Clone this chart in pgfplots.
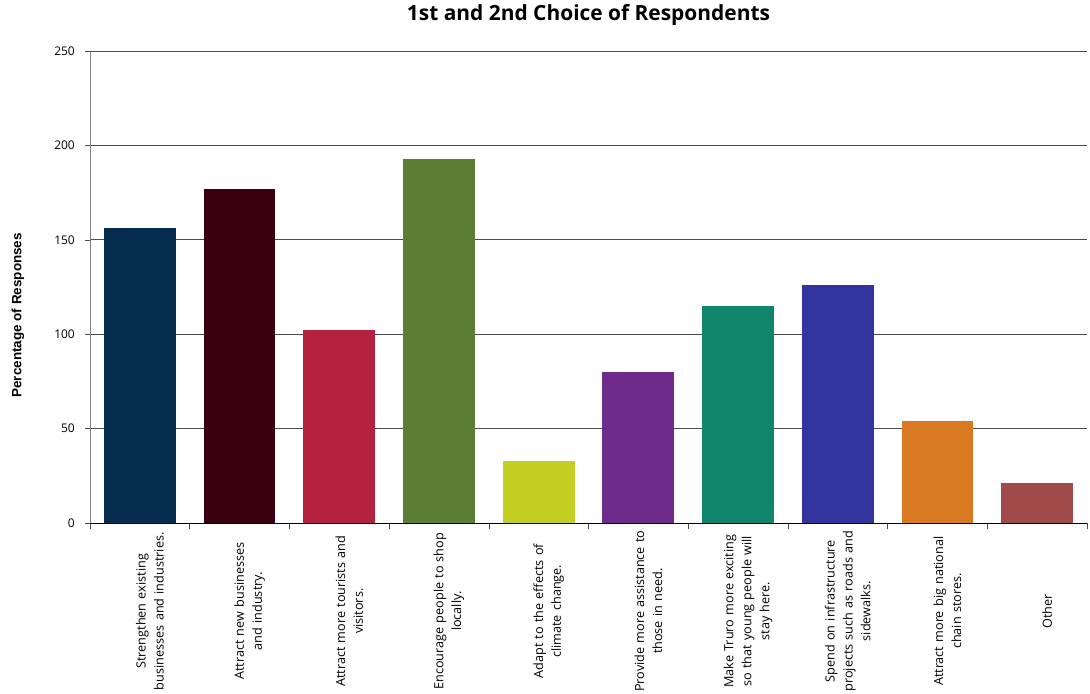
\documentclass[border=0pt]{standalone}
\usepackage{fontspec}
\setmainfont{Open Sans}
\newfontfamily\lib{Liberation Sans}
\usepackage{pgfplots}
\pgfplotsset{compat=1.18}
\definecolor{c1}{HTML}{062C4E}
\definecolor{c2}{HTML}{3A000E}
\definecolor{c3}{HTML}{B52240}
\definecolor{c4}{HTML}{5C7D34}
\definecolor{c5}{HTML}{C3CF22}
\definecolor{c6}{HTML}{6E2B8C}
\definecolor{c7}{HTML}{10856B}
\definecolor{c8}{HTML}{33349E}
\definecolor{c9}{HTML}{D97A22}
\definecolor{c10}{HTML}{A04B4A}
\begin{document}
\begin{tikzpicture}
\begin{axis}[
  scale only axis,
  width=997bp, height=472bp,
  xmin=0.5, xmax=10.5,
  ymin=0, ymax=250,
  ytick={0,50,...,250},
  axis x line*=bottom,
  axis y line*=left,
  x axis line style={black, line width=0.8bp},
  y axis line style={gray, line width=0.8bp},
  ymajorgrids,
  grid style={color=black!70, line width=0.8bp},
  tick align=outside,
  major tick length=5bp,
  minor tick length=6bp,
  tick style={black!70, line width=0.6bp},
  xtick={1,...,10},
  major x tick style={draw=none},
  minor xtick={0.5,1.5,...,10.5},
  xticklabels={
    {Strengthen existing\\businesses and industries.},
    {Attract new businesses\\and industry.},
    {Attract more tourists and\\visitors.},
    {Encourage people to shop\\locally.},
    {Adapt to the effects of\\climate change.},
    {Provide more assistance to\\those in need.},
    {Make Truro more exciting\\so that young people will\\stay here.},
    {Spend on infrastructure\\projects such as roads and\\sidewalks.},
    {Attract more big national\\chain stores.},
    {Other}},
  xticklabel style={rotate=90, anchor=east, text width=166bp, align=center,
    font=\fontsize{12.7}{18}\selectfont, inner sep=0pt, yshift=-10bp},
  yticklabel style={font=\fontsize{12}{14}\selectfont, anchor=east, inner sep=0pt, xshift=-10bp},
  /pgf/number format/assume math mode=true,
  title={\bfseries 1st and 2nd Choice of Respondents},
  title style={at={(0.5,1)}, anchor=base, yshift=25bp, font=\fontsize{21}{24}\selectfont},
  ylabel={\lib\bfseries Percentage of Responses},
  every axis y label/.style={at={(axis description cs:-0.0722,0.44)}, rotate=90, anchor=center, font=\fontsize{13.5}{15}\selectfont},
]
\addplot[ybar, bar width=0.72, bar shift=0pt, fill=c1, draw=none] coordinates {(1,156)};
\addplot[ybar, bar width=0.72, bar shift=0pt, fill=c2, draw=none] coordinates {(2,177)};
\addplot[ybar, bar width=0.72, bar shift=0pt, fill=c3, draw=none] coordinates {(3,102)};
\addplot[ybar, bar width=0.72, bar shift=0pt, fill=c4, draw=none] coordinates {(4,193)};
\addplot[ybar, bar width=0.72, bar shift=0pt, fill=c5, draw=none] coordinates {(5,33)};
\addplot[ybar, bar width=0.72, bar shift=0pt, fill=c6, draw=none] coordinates {(6,80)};
\addplot[ybar, bar width=0.72, bar shift=0pt, fill=c7, draw=none] coordinates {(7,115)};
\addplot[ybar, bar width=0.72, bar shift=0pt, fill=c8, draw=none] coordinates {(8,126)};
\addplot[ybar, bar width=0.72, bar shift=0pt, fill=c9, draw=none] coordinates {(9,54)};
\addplot[ybar, bar width=0.72, bar shift=0pt, fill=c10, draw=none] coordinates {(10,21)};
\end{axis}
\pgfresetboundingbox
\path[use as bounding box] (-90bp,-171bp) rectangle (1000bp,523bp);
\end{tikzpicture}
\end{document}
